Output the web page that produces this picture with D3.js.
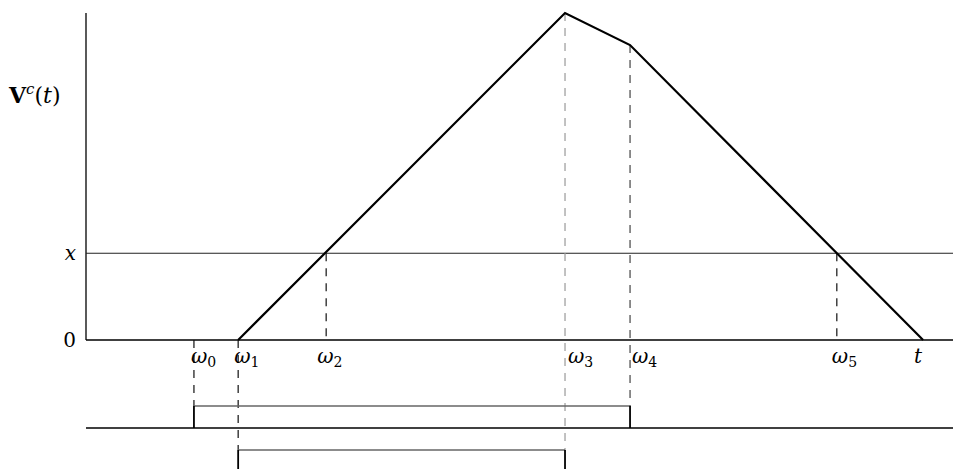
<!DOCTYPE html>
<html>
<head>
<meta charset="utf-8">
<script src="https://cdn.jsdelivr.net/npm/d3@7"></script>
<style>
  body { margin: 0; background: #fff; }
  text { font-family: "DejaVu Serif", "Liberation Serif", serif; fill: #000; }
</style>
</head>
<body>
<div id="chart"></div>
<script>
// time points on the horizontal axis
var TIME_NAMES = ["w0", "w1", "w2", "w3", "w4", "w5", "t"]
var TIME_VALUES = [2.49, 3.51, 5.54, 11.05, 12.55, 17.32, 19.31]

// V^c(t) profile: breakpoints (time, value)
var CURVE_T = [3.51, 11.05, 12.55, 19.31]
var CURVE_V = [0, 7.54, 6.80, 0]

// horizontal level x and the y tick labels
var LEVEL_X = 2.0
var Y_TICKS = [0, 2.0]
var Y_TICK_LABELS = ["0", "x"]

// pulses in the lower strip: [start, end] as time points
var PULSE_START = [2.49, 3.51]
var PULSE_END = [12.55, 11.05]

// dashed guide lines: time, from value (on curve), down to
var GUIDE_T = [2.49, 3.51, 5.54, 11.05, 12.55, 17.32]
var GUIDE_FROM = [0, 0, 2.0, 7.54, 6.80, 2.0]
var GUIDE_TO_ROW = [0, 1, null, 1, 0, null]

var width = 953, height = 469

var svg = d3.select("#chart")
  .append("svg")
    .attr("width", width)
    .attr("height", height)

// scales
var x = d3.scaleLinear()
  .domain([0, 20])
  .range([86, 953])

var y = d3.scaleLinear()
  .domain([0, 7.54])
  .range([340, 13])

var row = d3.scaleBand()
  .domain([0, 1])
  .range([384, 472])

var pulseHeight = 22

// left axis line
svg.append("line")
  .attr("x1", x(0)).attr("x2", x(0))
  .attr("y1", y(7.54)).attr("y2", y(0))
  .attr("stroke", "#000")
  .attr("stroke-width", 1.3)

// baseline and level x
svg.append("line")
  .attr("x1", x(0)).attr("x2", x(20))
  .attr("y1", y(0)).attr("y2", y(0))
  .attr("stroke", "#000")
  .attr("stroke-width", 1.3)

svg.append("line")
  .attr("x1", x(0)).attr("x2", x(20))
  .attr("y1", y(LEVEL_X)).attr("y2", y(LEVEL_X))
  .attr("stroke", "#222")
  .attr("stroke-width", 1.2)

// y tick labels
svg.selectAll(".ylab")
  .data(Y_TICKS)
  .enter()
  .append("text")
    .attr("class", "ylab")
    .attr("x", x(0) - 10)
    .attr("y", function(d) { return y(d) + 7 })
    .attr("text-anchor", "end")
    .style("font-size", "20px")
    .style("font-style", function(d, i) { return Y_TICK_LABELS[i] == "x" ? "italic" : "normal" })
    .text(function(d, i) { return Y_TICK_LABELS[i] })

// y title V^c(t)
var title = svg.append("text")
  .attr("x", 9)
  .attr("y", 103)
  .style("font-size", "22px")
title.append("tspan").style("font-weight", "bold").text("V")
title.append("tspan").attr("dy", -9).style("font-size", "15px").style("font-style", "italic").text("c")
title.append("tspan").attr("dy", 9).text("(")
title.append("tspan").style("font-style", "italic").text("t")
title.append("tspan").text(")")

// dashed guides
var guideColor = ["#111", "#111", "#111", "#999", "#444", "#111"]
svg.selectAll(".guide")
  .data(GUIDE_T)
  .enter()
  .append("line")
    .attr("class", "guide")
    .attr("x1", function(d) { return x(d) })
    .attr("x2", function(d) { return x(d) })
    .attr("y1", function(d, i) { return y(GUIDE_FROM[i]) })
    .attr("y2", function(d, i) {
      var r = GUIDE_TO_ROW[i]
      return r === null ? y(0) : row(r) + row.bandwidth() - pulseHeight
    })
    .attr("stroke", function(d, i) { return guideColor[i] })
    .attr("stroke-width", 1.2)
    .attr("stroke-dasharray", "8,7")

// V^c(t) curve
var curve = d3.line()
  .x(function(d) { return x(d[0]) })
  .y(function(d) { return y(d[1]) })

svg.append("path")
  .datum(CURVE_T.map(function(t, i) { return [t, CURVE_V[i]] }))
  .attr("d", curve)
  .attr("fill", "none")
  .attr("stroke", "#000")
  .attr("stroke-width", 2.2)
  .attr("stroke-linejoin", "miter")

// time labels
var labelDx = [-3, -4, -9, 3, 2, -5, -9]
var labels = svg.selectAll(".tlab")
  .data(TIME_VALUES)
  .enter()
  .append("text")
    .attr("class", "tlab")
    .attr("x", function(d, i) { return x(d) + labelDx[i] })
    .attr("y", 363)
    .style("font-size", "20px")

labels.append("tspan")
  .style("font-style", "italic")
  .text(function(d, i) { return TIME_NAMES[i] == "t" ? "t" : "\u03c9" })
labels.append("tspan")
  .attr("dy", 4)
  .style("font-size", "14px")
  .text(function(d, i) { return TIME_NAMES[i] == "t" ? "" : TIME_NAMES[i].slice(1) })

// lower strip: row baselines
svg.selectAll(".rowbase")
  .data(PULSE_START)
  .enter()
  .append("line")
    .attr("class", "rowbase")
    .attr("x1", x(0)).attr("x2", x(20))
    .attr("y1", function(d, i) { return row(i) + row.bandwidth() })
    .attr("y2", function(d, i) { return row(i) + row.bandwidth() })
    .attr("stroke", "#000")
    .attr("stroke-width", 1.3)

// pulses: solid sides, grey textured top
PULSE_START.forEach(function(s, i) {
  var bottom = row(i) + row.bandwidth()
  var top = bottom - pulseHeight
  svg.append("line")
    .attr("x1", x(s)).attr("x2", x(PULSE_END[i]))
    .attr("y1", top).attr("y2", top)
    .attr("stroke", "#666")
    .attr("stroke-width", 1.6)
  svg.selectAll(".side" + i)
    .data([s, PULSE_END[i]])
    .enter()
    .append("line")
      .attr("x1", function(d) { return x(d) })
      .attr("x2", function(d) { return x(d) })
      .attr("y1", top).attr("y2", bottom)
      .attr("stroke", "#000")
      .attr("stroke-width", 1.8)
})
</script>
</body>
</html>
